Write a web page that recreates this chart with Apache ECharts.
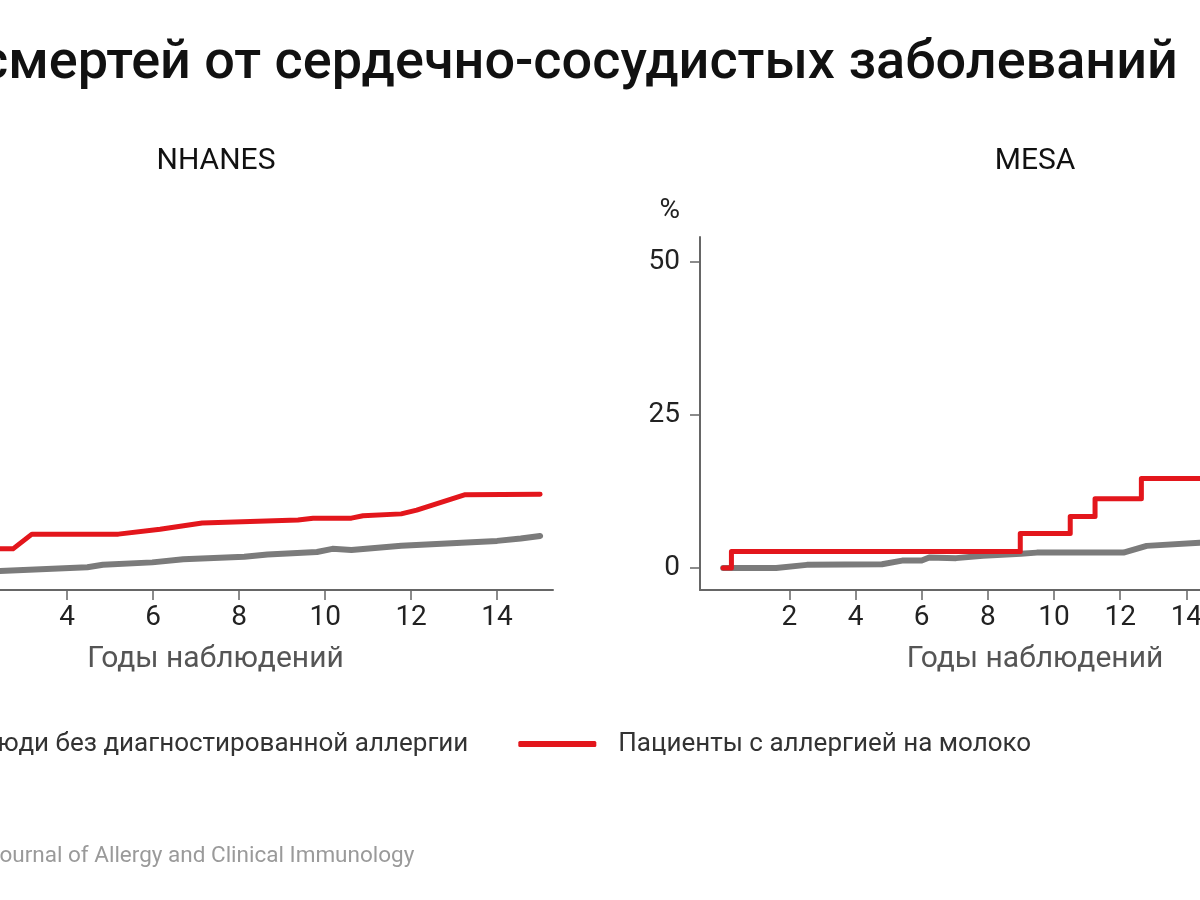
<!DOCTYPE html>
<html>
<head>
<meta charset="utf-8">
<script src="https://cdn.jsdelivr.net/npm/echarts@6/dist/echarts.min.js"></script>
<style>
html,body{margin:0;padding:0;background:#fff;}
#chart{width:1200px;height:900px;}
</style>
</head>
<body>
<div id="chart"></div>
<script>
// ---- data ----
const titleText = 'смертей от сердечно-сосудистых заболеваний';
const panelTitles = ['NHANES', 'MESA'];
const xAxisName = 'Годы наблюдений';
const yAxisName = '%';
const seriesNames = ['Люди без диагностированной аллергии', 'Пациенты с аллергией на молоко'];
const sourceText = 'Journal of Allergy and Clinical Immunology';
const xTicks = [2, 4, 6, 8, 10, 12, 14];
const yTicks = [0, 25, 50];

// NHANES [year, %]
const nhanesNoAllergy = [[0,0],[2.43,0.1],[4.47,0.7],[4.83,1.1],[5.98,1.5],[6.7,2.0],[8.12,2.4],[8.66,2.8],[9.81,3.2],[10.17,3.7],[10.61,3.5],[11.77,4.2],[14.0,5.0],[14.55,5.4],[15.0,5.8]];
const nhanesMilk = [[0,0],[0.5,2.0],[1.2,3.7],[2.74,3.7],[3.18,6.1],[5.19,6.1],[6.16,6.9],[7.14,7.9],[9.37,8.4],[9.72,8.7],[10.61,8.7],[10.88,9.1],[11.77,9.4],[12.13,10.0],[13.24,12.5],[15.0,12.6]];
// MESA [year, %]
const mesaNoAllergy = [[0,0],[1.6,0],[2.53,0.5],[4.8,0.6],[5.41,1.2],[6.0,1.2],[6.23,1.7],[7.04,1.6],[7.85,2.0],[9.0,2.3],[9.48,2.5],[12.1,2.5],[12.8,3.6],[14.4,4.1],[15.0,4.3]];
const mesaMilk = [[0,0],[0.25,2.7],[8.98,5.6],[10.49,8.4],[11.24,11.3],[12.64,14.6],[15.0,14.6]];

const GREY = '#7b7b7b';
const RED = '#e3161c';
const FONT = 'Roboto';

const chart = echarts.init(document.getElementById('chart'));

function xAxisCfg(gridIndex, min, max) {
  return {
    type: 'value', gridIndex, min, max,
    name: xAxisName, nameLocation: 'middle', nameGap: 54,
    nameTextStyle: {fontFamily: FONT, fontSize: 30, color: '#555'},
    axisLine: {show: true, onZero: false, lineStyle: {color: '#666', width: 2}},
    axisTick: {show: true, length: 10, customValues: xTicks, lineStyle: {color: '#666', width: 1.5}},
    axisLabel: {customValues: xTicks, fontFamily: FONT, fontSize: 28, color: '#222', margin: 14},
    splitLine: {show: false}
  };
}
function yAxisCfg(gridIndex, min, max) {
  return {
    type: 'value', gridIndex, min, max,
    name: yAxisName, nameLocation: 'end', nameGap: 12,
    nameTextStyle: {fontFamily: FONT, fontSize: 28, color: '#222', align: 'right', padding: [0, 20, 0, 0]},
    axisLine: {show: true, onZero: false, lineStyle: {color: '#666', width: 2}},
    axisTick: {show: true, length: 10, customValues: yTicks, lineStyle: {color: '#666', width: 1.5}},
    axisLabel: {customValues: yTicks, fontFamily: FONT, fontSize: 28, color: '#222', margin: 20},
    splitLine: {show: false}
  };
}
function lineSeries(name, data, xi, color, width, step) {
  return {
    name, type: 'line', xAxisIndex: xi, yAxisIndex: xi, data,
    step: step || false, showSymbol: false, symbol: 'none', silent: true,
    lineStyle: {color, width, cap: 'round', join: 'round'},
    itemStyle: {color}
  };
}

chart.setOption({
  backgroundColor: '#fff',
  animation: false,
  title: [
    {text: titleText, left: -25, top: 32, textStyle: {fontFamily: FONT, fontSize: 54, fontWeight: 500, color: '#111'}},
    {text: panelTitles[0], left: 211, textAlign: 'center', top: 141, textStyle: {fontFamily: FONT, fontSize: 30, fontWeight: 'normal', color: '#111'}},
    {text: panelTitles[1], left: 1030, textAlign: 'center', top: 141, textStyle: {fontFamily: FONT, fontSize: 30, fontWeight: 'normal', color: '#111'}}
  ],
  legend: {
    left: -126, top: 726, itemWidth: 78, itemHeight: 6, itemGap: 50,
    icon: 'roundRect',
    data: seriesNames,
    textStyle: {fontFamily: FONT, fontSize: 26, color: '#333', padding: [0, 0, 0, 17]},
    selectedMode: false
  },
  grid: [
    {left: -122, top: 237, width: 675, height: 353, containLabel: false, outerBoundsMode: 'none'},
    {left: 700, top: 237, width: 670, height: 353, containLabel: false, outerBoundsMode: 'none'}
  ],
  xAxis: [xAxisCfg(0, -0.4, 15.3), xAxisCfg(1, -0.7, 19.55)],
  yAxis: [yAxisCfg(0, -3.0, 54.5), yAxisCfg(1, -3.6, 54)],
  series: [
    lineSeries(seriesNames[0], nhanesNoAllergy, 0, GREY, 6),
    lineSeries(seriesNames[1], nhanesMilk, 0, RED, 5),
    lineSeries(seriesNames[0], mesaNoAllergy, 1, GREY, 6),
    lineSeries(seriesNames[1], mesaMilk, 1, RED, 5, 'end')
  ],
  graphic: [
    {type: 'text', left: -13, top: 845, style: {text: sourceText, fontFamily: FONT, fontSize: 22.5, fill: '#9a9a9a'}}
  ]
});
</script>
</body>
</html>
